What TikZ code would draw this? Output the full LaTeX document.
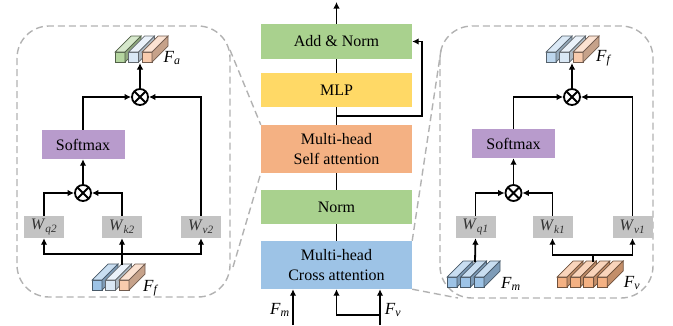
\documentclass[tikz,border=0pt]{standalone}
\usepackage{fontspec}
\setmainfont{Liberation Serif}
\usetikzlibrary{arrows.meta, calc, positioning}

\definecolor{normgreen}{HTML}{A9D18E}
\definecolor{mlpyellow}{HTML}{FFD966}
\definecolor{selforange}{HTML}{F4B183}
\definecolor{crossblue}{HTML}{9DC3E6}
\definecolor{softpurple}{HTML}{B89BCC}
\definecolor{wgray}{HTML}{C3C3C3}
\definecolor{barblue}{HTML}{9DC3E6}
\definecolor{barpale}{HTML}{DAE8F5}
\definecolor{barsky}{HTML}{BDD7EE}
\definecolor{barpeach}{HTML}{F8CBAD}
\definecolor{bargreen}{HTML}{B5D6A0}
\definecolor{barorange}{HTML}{F4B183}

\newcommand{\vsym}[2]{\textit{#1}\textsubscript{\textit{#2}}}
% one feature bar, front face bottom-left at (#1,#2)
\newcommand{\featbar}[3]{%
  \draw[draw=#3!45!black, line width=0.7pt, fill=#3] (#1,#2) rectangle ++(10,-10);
  \draw[draw=#3!45!black, line width=0.7pt, fill=#3!55!white] (#1,#2) ++(0,-10) -- ++(16,-16) -- ++(10,0) -- ++(-16,16) -- cycle;
  \draw[draw=#3!45!black, line width=0.7pt, fill=#3!80!black] (#1,#2) ++(10,0) -- ++(0,-10) -- ++(16,-16) -- ++(0,10) -- cycle;
}

\tikzset{
  blk/.style={minimum width=151pt, minimum height=34pt, inner sep=0pt, align=center, font=\fontsize{16}{19.5}\selectfont},
  wbox/.style={fill=wgray, minimum width=40pt, minimum height=22pt, inner sep=0pt, text=black!80, font=\fontsize{16}{19}\selectfont},
  smax/.style={fill=softpurple, minimum width=83pt, minimum height=29pt, inner sep=0pt, font=\fontsize{16}{19}\selectfont},
  mul/.style={circle, draw, line width=1.8pt, minimum size=16pt, inner sep=0pt,
    path picture={\draw[line width=1.8pt] (path picture bounding box.south west) -- (path picture bounding box.north east)
      (path picture bounding box.north west) -- (path picture bounding box.south east);}},
  conn/.style={line width=1.8pt},
  arr/.style={conn, -{Latex[length=6.5pt,width=6.5pt]}},
  zoombox/.style={draw=gray!60, dash pattern=on 7pt off 4pt, line width=1.4pt, rounded corners=32pt},
  zoomline/.style={draw=gray!60, dash pattern=on 7pt off 4pt, line width=1.4pt},
  flabel/.style={inner sep=0pt, font=\fontsize{17}{19}\selectfont},
}

\begin{document}
\begin{tikzpicture}[x=1pt, y=-1pt]
  \useasboundingbox (0,0) rectangle (673,325);

  % centre column
  \node[blk, fill=normgreen, minimum height=35pt] (addnorm) at (336.5,41.5) {Add \& Norm};
  \node[blk, fill=mlpyellow] (mlp) at (336.5,90) {MLP};
  \node[blk, fill=selforange, minimum height=48pt] (selfatt) at (336.5,149) {Multi-head\\Self attention};
  \node[blk, fill=normgreen] (norm) at (336.5,207) {Norm};
  \node[blk, fill=crossblue, minimum height=48pt] (crossatt) at (336.5,265) {Multi-head\\Cross attention};

  \coordinate (out) at (336.5,2);
  \coordinate (res) at (336.5,116);
  \coordinate (rescorner) at (422,41.5);
  \coordinate (fmin) at (293,325);
  \coordinate (fvin) at (380,325);
  \coordinate (fvsplit) at (380,315);

  \draw[arr] (addnorm.north) -- (out);
  \draw[conn] (mlp.north) -- (addnorm.south);
  \draw[conn] (selfatt.north) -- (mlp.south);
  \draw[conn] (norm.north) -- (selfatt.south);
  \draw[conn] (crossatt.north) -- (norm.south);
  \draw[arr] (res) -| (rescorner) -- (addnorm.east); % residual
  \draw[arr] (fmin) -- (fmin |- crossatt.south);
  \draw[arr] (fvin) -- (fvin |- crossatt.south);
  \draw[arr] (fvsplit) -| (crossatt.south);
  \node[flabel] (fmlab) at (280,310) {\vsym{F}{m}};
  \node[flabel] (fvlab) at (393,310) {\vsym{F}{v}};

  % left zoom: self attention
  \draw[zoombox] (17,26) rectangle (230,297);
  \draw[zoomline] (230,50) -- (selfatt.north west);
  \draw[zoomline] (233,267) -- (selfatt.south west);

  \foreach \col [count=\i from 0] in {bargreen,barpale,barpeach}
    \featbar{115+13.5*\i}{62}{\col};
  \foreach \col [count=\i from 0] in {barblue,barpale,barpeach}
    \featbar{92+13.5*\i}{290}{\col};
  \node[flabel] (falab) at (172,58) {\vsym{F}{a}};
  \node[flabel] (fflabL) at (151,288) {\vsym{F}{f}};
  \coordinate (fatip) at (140,63);
  \coordinate (ffLtop) at (122,265);
  \coordinate (busL) at (122,254);

  \node[mul] (mulA) at (140,97) {};
  \node[smax] (softL) at (83,144.5) {Softmax};
  \node[mul] (mulB) at (83,193) {};
  \node[wbox] (wq2) at (44,227) {\vsym{W}{q2}};
  \node[wbox] (wk2) at (122,227) {\vsym{W}{k2}};
  \node[wbox] (wv2) at (201,227) {\vsym{W}{v2}};

  \draw[arr] (mulA.north) -- (fatip);
  \draw[arr] (softL.north) |- (mulA.west);
  \draw[arr] (wv2.north) |- (mulA.east);
  \draw[arr] (mulB.north) -- (softL.south);
  \draw[arr] (wq2.north) |- (mulB.west);
  \draw[arr] (wk2.north) |- (mulB.east);
  \draw[arr] (ffLtop) -- (wk2.south);
  \draw[arr] (busL) -| (wq2.south);
  \draw[arr] (busL) -| (wv2.south);

  % right zoom: cross attention
  \draw[zoombox] (440,26) rectangle (653,298);
  \draw[zoomline] (crossatt.north east) -- (441,50);
  \draw[zoomline] (crossatt.south east) -- (458,298);

  \foreach \col [count=\i from 0] in {barsky,barpale,barpeach}
    \featbar{546+13.5*\i}{62}{\col};
  \foreach \col [count=\i from 0] in {barblue,barblue,barblue}
    \featbar{447+13.5*\i}{287}{\col};
  \foreach \col [count=\i from 0] in {barorange,barorange,barorange,barorange}
    \featbar{557+13.4*\i}{287}{\col};
  \node[flabel] (fflabR) at (604,58) {\vsym{F}{f}};
  \node[flabel] (fmlabR) at (511,284) {\vsym{F}{m}};
  \node[flabel] (fvlabR) at (632,283) {\vsym{F}{v}};
  \coordinate (fftip) at (572,63);
  \coordinate (fmtop) at (475,262);
  \coordinate (fvtop) at (593,262);
  \coordinate (busR) at (593,255);

  \node[mul] (mulC) at (572,97) {};
  \node[smax] (softR) at (513.5,143.5) {Softmax};
  \node[mul] (mulD) at (513.5,193) {};
  \node[wbox] (wq1) at (475.5,227) {\vsym{W}{q1}};
  \node[wbox] (wk1) at (552.5,227) {\vsym{W}{k1}};
  \node[wbox] (wv1) at (632.5,227) {\vsym{W}{v1}};

  \draw[arr] (mulC.north) -- (fftip);
  \draw[arr] (softR.north) |- (mulC.west);
  \draw[arr] (wv1.north) |- (mulC.east);
  \draw[arr] (mulD.north) -- (softR.south);
  \draw[arr] (wq1.north) |- (mulD.west);
  \draw[arr] (wk1.north) |- (mulD.east);
  \draw[arr] (fmtop) -- (wq1.south);
  \draw[conn] (fvtop) -- (busR);
  \draw[arr] (busR) -| (wk1.south);
  \draw[arr] (busR) -| (wv1.south);
\end{tikzpicture}
\end{document}
